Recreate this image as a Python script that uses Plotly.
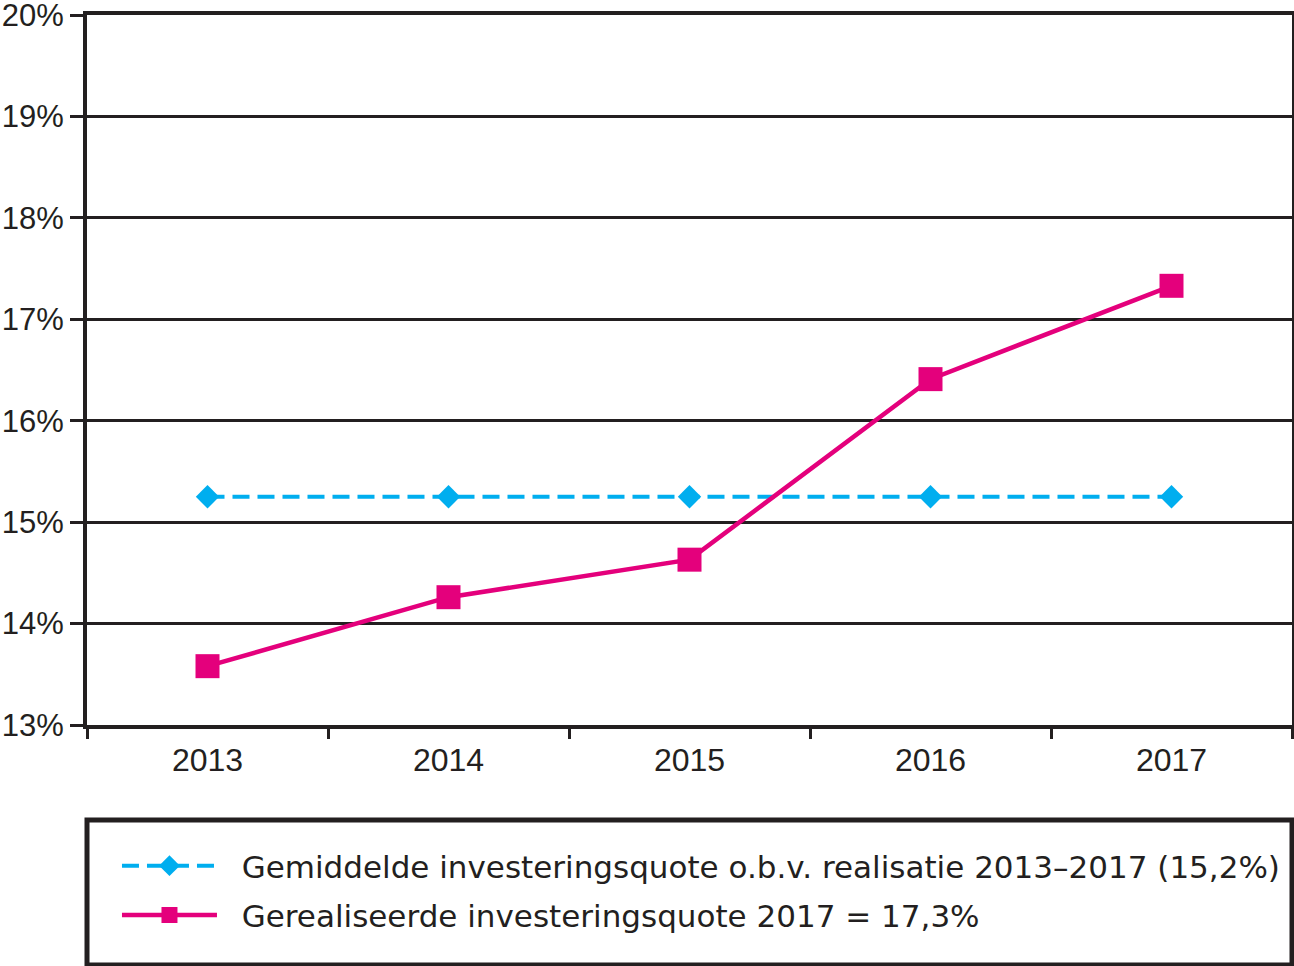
import plotly.graph_objects as go

years = ["2013", "2014", "2015", "2016", "2017"]
gemiddeld = [15.25, 15.25, 15.25, 15.25, 15.25]
gerealiseerd = [13.58, 14.26, 14.63, 16.41, 17.33]
name_gem = "Gemiddelde investeringsquote o.b.v. realisatie 2013–2017 (15,2%)"
name_ger = "Gerealiseerde investeringsquote 2017 = 17,3%"
y_ticks = [13, 14, 15, 16, 17, 18, 19, 20]
y_labels = ["13%", "14%", "15%", "16%", "17%", "18%", "19%", "20%"]

DARK = "#231f20"
BLUE = "#00aeef"
PINK = "#e4007c"
FONT = "Liberation Sans, Arial, sans-serif"
LFONT = "DejaVu Sans, sans-serif"
PAD = "\u00a0\u00a0"

fig = go.Figure()
fig.add_trace(go.Scatter(
    x=years, y=gemiddeld, name=PAD + name_gem, mode="lines+markers",
    line=dict(color=BLUE, width=4, dash="17px,8px"),
    marker=dict(symbol="diamond", size=18, color=BLUE),
    legendgroup="a",
))
fig.add_trace(go.Scatter(
    x=years, y=gerealiseerd, name=PAD + name_ger, mode="lines+markers",
    line=dict(color=PINK, width=4.5),
    marker=dict(symbol="square", size=24, color=PINK),
    legendgroup="b",
))

fig.update_layout(
    width=1294, height=966,
    margin=dict(l=87, r=2, t=15, b=241, autoexpand=False),
    paper_bgcolor="white", plot_bgcolor="white",
    font=dict(family=FONT, size=32, color=DARK),
    showlegend=True,
    legend=dict(
        xref="container", yref="container",
        x=0.0904, y=0.1314, xanchor="left", yanchor="top",
        font=dict(family=LFONT, size=31, color=DARK),
        bgcolor="rgba(0,0,0,0)", borderwidth=0,
        itemwidth=95, tracegroupgap=6,
    ),
    xaxis=dict(
        type="category", tickson="boundaries", ticks="outside", ticklen=10,
        tickwidth=3, tickcolor=DARK, showline=True, linecolor=DARK, linewidth=4,
        mirror=True, showgrid=False, tickfont=dict(size=32, family=FONT, color=DARK),
        range=[-0.5, 4.5], automargin=False, tickangle=0, ticklabelstandoff=4,
    ),
    yaxis=dict(
        range=[13, 20], tickvals=y_ticks, ticktext=y_labels, ticks="outside",
        ticklen=13, tickwidth=3, tickcolor=DARK, showline=True, linecolor=DARK,
        linewidth=4, mirror=True, showgrid=True, gridcolor=DARK, gridwidth=2.5,
        zeroline=False, tickfont=dict(size=31, family=FONT, color=DARK),
        automargin=False, ticklabeloverflow="allow",
    ),
    shapes=[dict(
        type="rect", xref="paper", yref="paper",
        x0=0, x1=1, y0=-0.338, y1=-0.1338,
        line=dict(color=DARK, width=5), fillcolor="rgba(0,0,0,0)",
    )],
)

fig.write_html(
    "out.html",
    config={"displayModeBar": False},
    post_script="document.body.style.margin='0px';document.body.style.overflow='hidden';",
)
